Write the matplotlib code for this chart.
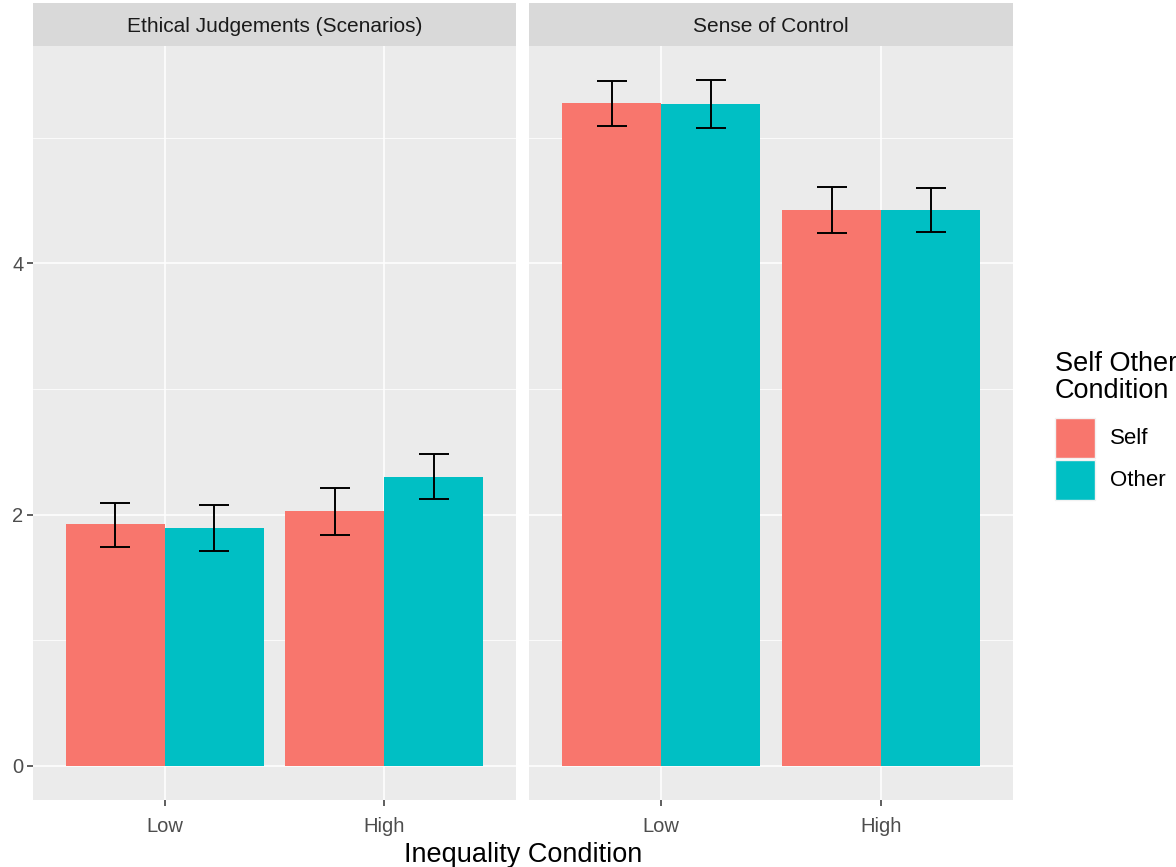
import numpy as np
import matplotlib.pyplot as plt
from matplotlib.patches import Rectangle

plt.rcParams['font.family'] = ['Liberation Sans', 'DejaVu Sans']

# Group means and error bar limits per facet
conditions = ['Low', 'High']
groups = ['Self', 'Other']
facets = ['Ethical Judgements (Scenarios)', 'Sense of Control']

ethical_self = [1.924, 2.029]
ethical_other = [1.892, 2.300]
ethical_self_lo = [1.745, 1.836]
ethical_self_hi = [2.096, 2.212]
ethical_other_lo = [1.713, 2.125]
ethical_other_hi = [2.080, 2.481]

control_self = [5.274, 4.422]
control_other = [5.266, 4.422]
control_self_lo = [5.096, 4.239]
control_self_hi = [5.452, 4.608]
control_other_lo = [5.080, 4.247]
control_other_hi = [5.460, 4.602]

panels = [
    (ethical_self, ethical_other, ethical_self_lo, ethical_self_hi, ethical_other_lo, ethical_other_hi),
    (control_self, control_other, control_self_lo, control_self_hi, control_other_lo, control_other_hi),
]

colors = ['#F8766D', '#00BFC4']
W, H = 1176, 867
fig = plt.figure(figsize=(W / 100, H / 100), dpi=100)


def px_axes(x0, y0, x1, y1):
    # pixel box (top-left origin) -> figure fraction
    return [x0 / W, 1 - y1 / H, (x1 - x0) / W, (y1 - y0) / H]


panel_x = [(33, 516), (529, 1013)]
top, bottom, strip_top = 45.6, 800.3, 3

all_hi = ethical_self_hi + ethical_other_hi + control_self_hi + control_other_hi
ymax = max(all_hi)
pad = ymax * 0.05

for k, (facet, data) in enumerate(zip(facets, panels)):
    x0, x1 = panel_x[k]
    ax = fig.add_axes(px_axes(x0, top, x1, bottom))
    ax.set_facecolor('#EBEBEB')
    for s in ax.spines.values():
        s.set_visible(False)

    self_m, other_m, s_lo, s_hi, o_lo, o_hi = data
    x = np.arange(1, len(conditions) + 1)
    bw = 0.45
    ax.bar(x - bw / 2, self_m, width=bw, color=colors[0], zorder=3)
    ax.bar(x + bw / 2, other_m, width=bw, color=colors[1], zorder=3)

    for xs, m, lo, hi in [(x - bw / 2, self_m, s_lo, s_hi), (x + bw / 2, other_m, o_lo, o_hi)]:
        m = np.array(m)
        err = [m - np.array(lo), np.array(hi) - m]
        ax.errorbar(xs, m, yerr=err, fmt='none', ecolor='black',
                    elinewidth=1.4, capsize=10.5, capthick=1.4, zorder=4)

    ax.set_xlim(0.4, 2.6)
    ax.set_ylim(-pad, ymax + pad)
    ax.set_yticks([0, 2, 4])
    ax.set_yticks([1, 3, 5], minor=True)
    ax.set_xticks(x)
    ax.set_xticklabels(conditions)
    ax.grid(True, which='major', color='white', linewidth=1.1, zorder=0)
    ax.grid(True, which='minor', axis='y', color='white', linewidth=0.55, zorder=0)
    ax.set_axisbelow(True)
    ax.tick_params(axis='both', which='major', colors='#333333', labelcolor='#4D4D4D',
                   labelsize=14.5, length=4, width=1.1)
    ax.tick_params(axis='x', which='major', pad=8)
    ax.tick_params(axis='y', which='major', pad=3)
    ax.tick_params(axis='y', which='minor', length=0)
    if k == 1:
        ax.tick_params(axis='y', which='major', labelleft=False, left=False)

    # facet strip
    sax = fig.add_axes(px_axes(x0, strip_top, x1, top))
    sax.set_xticks([])
    sax.set_yticks([])
    sax.set_facecolor('#D9D9D9')
    for s in sax.spines.values():
        s.set_visible(False)
    sax.text(0.5, 0.45, facet, ha='center', va='center', fontsize=15,
             color='#1A1A1A', transform=sax.transAxes)

fig.text(523 / W, 1 - 855 / H, 'Inequality Condition', ha='center', va='center',
         fontsize=19.5, color='black')

# legend
fig.text(1055 / W, 1 - 377 / H, 'Self Other\nCondition', ha='left', va='center',
         fontsize=19.5, color='black', linespacing=1.05)
for i, g in enumerate(groups):
    ky = 418 + i * 42
    fig.patches.append(Rectangle((1055 / W, 1 - (ky + 40) / H), 40 / W, 40 / H,
                                 transform=fig.transFigure, facecolor=colors[i],
                                 edgecolor='#F2F2F2', linewidth=1.0))
    fig.text(1110 / W, 1 - (ky + 20) / H, g, ha='left', va='center',
             fontsize=16, color='black')

fig.savefig('out.png', dpi=100)
